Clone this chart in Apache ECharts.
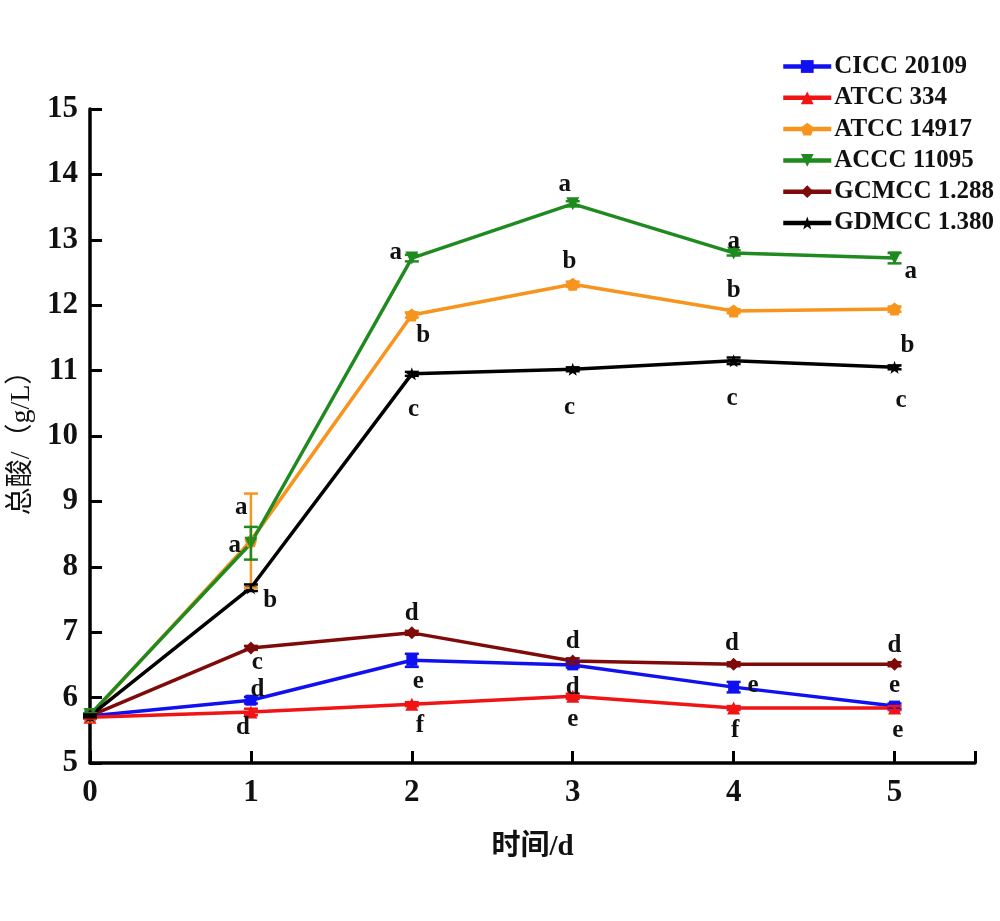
<!DOCTYPE html>
<html><head><meta charset="utf-8">
<script src="https://cdn.jsdelivr.net/npm/echarts@6/dist/echarts.min.js"></script>
<style>html,body{margin:0;padding:0;background:#fff}#c{width:1000px;height:921px}</style>
</head><body><div id="c"></div>
<script>
var days = [0, 1, 2, 3, 4, 5];
var xTicks = ['0', '1', '2', '3', '4', '5'];
var seriesNames = ['CICC 20109', 'ATCC 334', 'ATCC 14917', 'ACCC 11095', 'GCMCC 1.288', 'GDMCC 1.380'];
var cicc20109 = [5.72, 5.96, 6.57, 6.50, 6.16, 5.87];
var atcc334 = [5.70, 5.78, 5.90, 6.02, 5.84, 5.84];
var atcc14917 = [5.72, 8.40, 11.85, 12.32, 11.91, 11.94];
var accc11095 = [5.74, 8.36, 12.72, 13.55, 12.80, 12.72];
var gcmcc1288 = [5.72, 6.76, 6.99, 6.56, 6.51, 6.51];
var gdmcc1380 = [5.72, 7.68, 10.95, 11.02, 11.15, 11.05];
var errCicc = [0.02, 0.05, 0.10, 0.04, 0.08, 0.04];
var errAtcc334 = [0.02, 0.05, 0.03, 0.04, 0.03, 0.03];
var errAtcc14917 = [0.02, 0.72, 0.04, 0.04, 0.03, 0.04];
var errAccc = [0.02, 0.25, 0.05, 0.04, 0.04, 0.08];
var errGcmcc = [0.02, 0.03, 0.03, 0.04, 0.03, 0.03];
var errGdmcc = [0.02, 0.05, 0.03, 0.03, 0.05, 0.03];
// significance letters: [x, y, letter]
var sigLetters = [
  [0.94, 8.91, 'a'], [0.90, 8.33, 'a'], [1.12, 7.49, 'b'], [1.04, 6.53, 'c'], [1.04, 6.12, 'd'], [0.95, 5.54, 'd'],
  [1.90, 12.81, 'a'], [2.07, 11.54, 'b'], [2.01, 10.40, 'c'], [2.00, 7.28, 'd'], [2.04, 6.24, 'e'], [2.05, 5.57, 'f'],
  [2.95, 13.85, 'a'], [2.98, 12.66, 'b'], [2.98, 10.43, 'c'], [3.00, 6.85, 'd'], [3.00, 6.15, 'd'], [3.00, 5.66, 'e'],
  [4.00, 12.98, 'a'], [4.00, 12.23, 'b'], [3.99, 10.58, 'c'], [3.99, 6.82, 'd'], [4.12, 6.18, 'e'], [4.01, 5.50, 'f'],
  [5.10, 12.51, 'a'], [5.08, 11.39, 'b'], [5.04, 10.54, 'c'], [5.00, 6.80, 'd'], [5.00, 6.18, 'e'], [5.02, 5.49, 'e']
];

var values = [cicc20109, atcc334, atcc14917, accc11095, gcmcc1288, gdmcc1380];
var errors = [errCicc, errAtcc334, errAtcc14917, errAccc, errGcmcc, errGdmcc];
var colors = ['#1010f0', '#f01414', '#f7941d', '#1f8a1f', '#7f0a0a', '#000000'];
var pentagon = 'path://M0,-10 L9.5,-3.1 L5.9,8.1 L-5.9,8.1 L-9.5,-3.1 Z';
var star = 'path://M0,-10 L2.4,-3.3 L9.5,-3.1 L3.9,1.3 L5.9,8.1 L0,4.1 L-5.9,8.1 L-3.9,1.3 L-9.5,-3.1 L-2.4,-3.3 Z';
var symbols = ['rect', 'triangle', pentagon, 'triangle', 'diamond', star];
var rotates = [0, 0, 0, 180, 0, 0];
var sizes = [11, 13, 13, 13, 13, 13];

var serif = '"Liberation Serif","Noto Sans CJK SC",serif';
var series = [];
seriesNames.forEach(function (name, i) {
  series.push({
    name: name, type: 'line',
    data: days.map(function (d, j) { return [d, values[i][j]]; }),
    symbol: symbols[i], symbolSize: sizes[i], symbolRotate: rotates[i],
    lineStyle: { width: 3.5, color: colors[i] },
    itemStyle: { color: colors[i] },
    z: 3
  });
  series.push({
    name: name, type: 'custom',
    data: days.map(function (d, j) { return [d, values[i][j], errors[i][j]]; }),
    renderItem: function (params, api) {
      var x = api.value(0), y = api.value(1), e = api.value(2);
      var top = api.coord([x, y + e]), bot = api.coord([x, y - e]);
      var w = 7;
      return {
        type: 'group',
        children: [
          { type: 'line', shape: { x1: top[0], y1: top[1], x2: bot[0], y2: bot[1] }, style: { stroke: colors[i], lineWidth: 2.5 } },
          { type: 'line', shape: { x1: top[0] - w, y1: top[1], x2: top[0] + w, y2: top[1] }, style: { stroke: colors[i], lineWidth: 2.5 } },
          { type: 'line', shape: { x1: bot[0] - w, y1: bot[1], x2: bot[0] + w, y2: bot[1] }, style: { stroke: colors[i], lineWidth: 2.5 } }
        ]
      };
    },
    z: 4, silent: true
  });
});
series.push({
  type: 'custom', name: 'letters',
  data: sigLetters,
  renderItem: function (params, api) {
    var p = api.coord([api.value(0), api.value(1)]);
    return {
      type: 'text',
      style: { x: p[0], y: p[1], text: sigLetters[params.dataIndex][2], fill: '#111', font: 'bold 25px ' + serif, textAlign: 'center', textVerticalAlign: 'middle' }
    };
  },
  z: 5, silent: true
});

var chart = echarts.init(document.getElementById('c'));
chart.setOption({
  animation: false,
  backgroundColor: '#fff',
  grid: { left: 87, right: 25, top: 109, bottom: 158, containLabel: false },
  legend: {
    data: seriesNames,
    orient: 'vertical', left: 776, top: 49,
    itemWidth: 48, itemHeight: 16, itemGap: 6.3,
    lineStyle: { width: 4.5 },
    textStyle: { fontFamily: serif, fontWeight: 'bold', fontSize: 25, color: '#111', padding: [0, 0, 0, -2] }
  },
  xAxis: {
    type: 'value', min: 0, max: 5.5, interval: 1,
    name: '时间/d', nameLocation: 'middle', nameGap: 70,
    nameTextStyle: { fontFamily: serif, fontWeight: 'bold', fontSize: 29, color: '#111' },
    axisLine: { show: true, lineStyle: { color: '#000', width: 3.5 } },
    axisTick: { show: true, inside: true, length: 12, lineStyle: { color: '#000', width: 3 } },
    axisLabel: { fontFamily: serif, fontWeight: 'bold', fontSize: 31, color: '#111', margin: 14,
      formatter: function (v) { var i = days.indexOf(v); return i >= 0 ? xTicks[i] : ''; } },
    splitLine: { show: false }
  },
  yAxis: {
    type: 'value', min: 5, max: 15, interval: 1,
    name: '总酸/（g/L）', nameLocation: 'middle', nameGap: 54, nameRotate: 90,
    nameTextStyle: { fontFamily: serif, fontWeight: 'normal', fontSize: 28, color: '#111' },
    axisLine: { show: true, lineStyle: { color: '#000', width: 3.5 } },
    axisTick: { show: true, inside: true, length: 12, lineStyle: { color: '#000', width: 3 } },
    axisLabel: { fontFamily: serif, fontWeight: 'bold', fontSize: 31, color: '#111', margin: 12 },
    splitLine: { show: false }
  },
  series: series
});
</script></body></html>
